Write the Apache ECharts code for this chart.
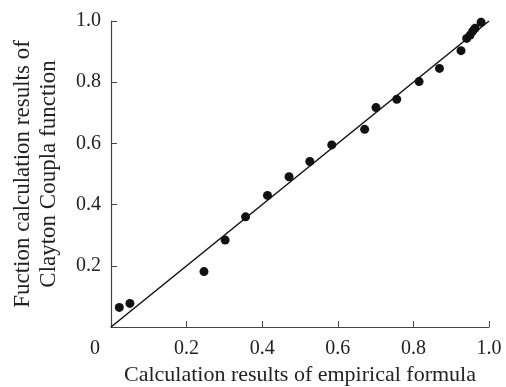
<!DOCTYPE html>
<html>
<head>
<meta charset="utf-8">
<script src="https://cdn.jsdelivr.net/npm/echarts@6/dist/echarts.min.js"></script>
<style>
  html, body { margin: 0; padding: 0; background: #fff; }
  #main { width: 506px; height: 387px; }
</style>
</head>
<body>
<div id="main"></div>
<script>
  // 经验公式计算结果 (x) 与 Clayton Copula 函数计算结果 (y)
  var empirical = [0.022, 0.050, 0.246, 0.302, 0.356, 0.414, 0.471, 0.526, 0.584, 0.671,
                   0.701, 0.756, 0.815, 0.869, 0.926, 0.941, 0.950, 0.957, 0.963, 0.979];
  var clayton   = [0.064, 0.077, 0.181, 0.284, 0.360, 0.430, 0.491, 0.541, 0.595, 0.646,
                   0.717, 0.744, 0.802, 0.845, 0.903, 0.943, 0.954, 0.967, 0.976, 0.996];
  var refLineX = [0, 1];
  var refLineY = [0, 1];

  var points = empirical.map(function (v, i) { return [v, clayton[i]]; });
  var diag = refLineX.map(function (v, i) { return [v, refLineY[i]]; });

  var font = 'Liberation Serif';
  var axisColor = '#444';
  var textColor = '#222';

  var chart = echarts.init(document.getElementById('main'));
  chart.setOption({
    animation: false,
    grid: { left: 111, top: 21, right: 17, bottom: 60, outerBoundsMode: 'none' },
    xAxis: {
      type: 'value',
      min: 0, max: 1, interval: 0.2,
      name: 'Calculation results of empirical formula',
      nameLocation: 'middle',
      nameGap: 37,
      nameTextStyle: { fontFamily: font, fontSize: 22, color: textColor },
      axisLine: { lineStyle: { color: axisColor, width: 1.2 } },
      axisTick: { inside: true, length: 6, lineStyle: { color: axisColor } },
      splitLine: { show: false },
      axisLabel: {
        fontFamily: font, fontSize: 20, color: textColor, margin: 12,
        formatter: function (v) { return v === 0 ? '{o|0}' : v.toFixed(1); },
        rich: { o: { fontFamily: font, fontSize: 20, color: textColor, padding: [0, 32, 0, 0] } }
      }
    },
    yAxis: {
      type: 'value',
      min: 0, max: 1, interval: 0.2,
      name: 'Fuction calculation results of\nClayton Coupla function',
      nameLocation: 'middle',
      nameRotate: 90,
      nameGap: 49,
      nameTextStyle: { fontFamily: font, fontSize: 23, color: textColor, lineHeight: 26 },
      axisLine: { lineStyle: { color: axisColor, width: 1.2 } },
      axisTick: { inside: true, length: 6, lineStyle: { color: axisColor } },
      splitLine: { show: false },
      axisLabel: {
        fontFamily: font, fontSize: 20, color: textColor, margin: 10,
        formatter: function (v) { return v === 0 ? '' : v.toFixed(1); }
      }
    },
    series: [
      {
        type: 'line',
        data: diag,
        symbol: 'none',
        lineStyle: { color: '#111', width: 1.5 },
        silent: true
      },
      {
        type: 'scatter',
        data: points,
        symbolSize: 9,
        itemStyle: { color: '#111', opacity: 1 }
      }
    ]
  });
</script>
</body>
</html>
